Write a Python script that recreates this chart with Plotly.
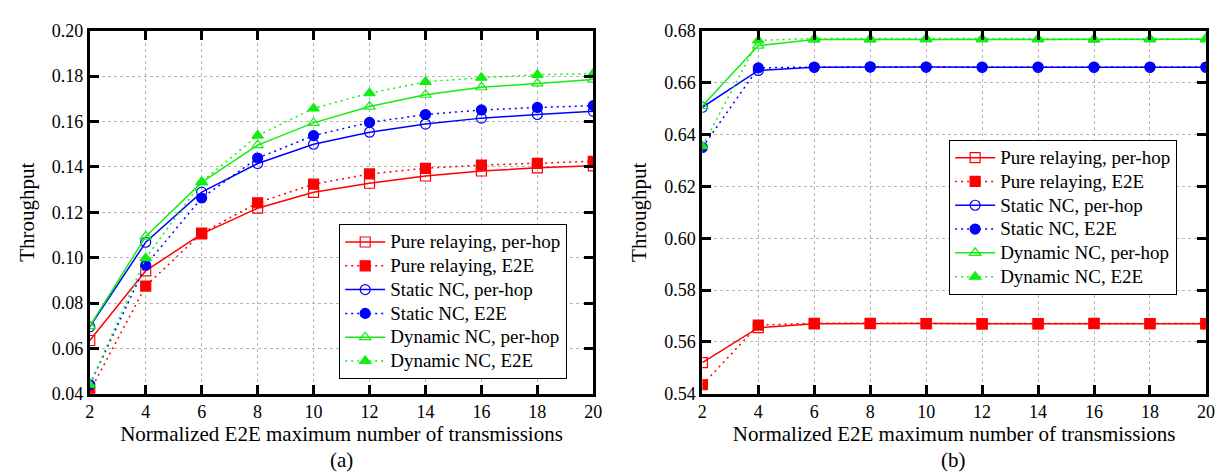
import plotly.graph_objects as go

x_vals = [2, 4, 6, 8, 10, 12, 14, 16, 18, 20]

# (a)
a_pure_hop = [0.0635, 0.0942, 0.1105, 0.1218, 0.1288, 0.1328, 0.1360, 0.1382, 0.1396, 0.1405]
a_pure_e2e = [0.0410, 0.0875, 0.1108, 0.1242, 0.1324, 0.1369, 0.1394, 0.1408, 0.1416, 0.1425]
a_static_hop = [0.0695, 0.1068, 0.1289, 0.1415, 0.1500, 0.1553, 0.1589, 0.1615, 0.1631, 0.1645]
a_static_e2e = [0.0440, 0.0967, 0.1263, 0.1439, 0.1538, 0.1596, 0.1631, 0.1651, 0.1662, 0.1670]
a_dyn_hop = [0.0698, 0.1093, 0.1332, 0.1496, 0.1594, 0.1666, 0.1718, 0.1751, 0.1768, 0.1785]
a_dyn_e2e = [0.0440, 0.0998, 0.1334, 0.1538, 0.1658, 0.1725, 0.1775, 0.1793, 0.1806, 0.1812]

# (b)
b_pure_hop = [0.5520, 0.5655, 0.5670, 0.5671, 0.5671, 0.5670, 0.5670, 0.5671, 0.5671, 0.5670]
b_pure_e2e = [0.5435, 0.5665, 0.5672, 0.5672, 0.5671, 0.5670, 0.5671, 0.5672, 0.5671, 0.5671]
b_static_hop = [0.6505, 0.6647, 0.6659, 0.6660, 0.6660, 0.6659, 0.6659, 0.6659, 0.6659, 0.6659]
b_static_e2e = [0.6350, 0.6657, 0.6660, 0.6661, 0.6660, 0.6660, 0.6660, 0.6660, 0.6660, 0.6660]
b_dyn_hop = [0.6510, 0.6743, 0.6766, 0.6766, 0.6767, 0.6767, 0.6767, 0.6766, 0.6767, 0.6767]
b_dyn_e2e = [0.6355, 0.6763, 0.6770, 0.6769, 0.6770, 0.6770, 0.6769, 0.6768, 0.6769, 0.6770]

names = ["Pure relaying, per-hop", "Pure relaying, E2E", "Static NC, per-hop",
         "Static NC, E2E", "Dynamic NC, per-hop", "Dynamic NC, E2E"]

RED, BLUE, GREEN = "#ff0000", "#0000ff", "#11ee11"
DOT = "2px,4px"
styles = [
    (RED, "solid", "square-open"),
    (RED, DOT, "square"),
    (BLUE, "solid", "circle-open"),
    (BLUE, DOT, "circle"),
    (GREEN, "solid", "triangle-up-open"),
    (GREEN, DOT, "triangle-up"),
]

FONT = "Liberation Serif, Times New Roman, DejaVu Serif, serif"
fig = go.Figure()

series_a = [a_pure_hop, a_pure_e2e, a_static_hop, a_static_e2e, a_dyn_hop, a_dyn_e2e]
series_b = [b_pure_hop, b_pure_e2e, b_static_hop, b_static_e2e, b_dyn_hop, b_dyn_e2e]

for ser, xa, ya, leg in [(series_a, "x", "y", "legend"), (series_b, "x2", "y2", "legend2")]:
    for vals, name, (col, dash, sym) in zip(ser, names, styles):
        fig.add_trace(go.Scatter(
            x=x_vals, y=vals, mode="lines+markers",
            name='<span style="font-size:19px">' + name + '</span>',
            line=dict(color=col, width=1.5, dash=dash),
            marker=dict(symbol=sym, size=10, color=col, line=dict(color=col, width=1.2)),
            xaxis=xa, yaxis=ya, legend=leg,
        ))

axis_common = dict(
    showline=True, linecolor="black", linewidth=3, mirror="ticks",
    ticks="inside", ticklen=9, tickwidth=2.5, tickcolor="black",
    showgrid=True, gridcolor="#b5b5b5", griddash="dot", gridwidth=1,
    zeroline=False, tickfont=dict(family=FONT, size=18, color="black"),
)

title_font = dict(family=FONT, size=21, color="black")
leg_font = dict(family=FONT, size=16, color="black")
xtitle = "Normalized E2E maximum number of transmissions"

fig.update_layout(
    width=1223, height=476,
    paper_bgcolor="white", plot_bgcolor="white",
    margin=dict(l=0, r=0, t=0, b=0),
    font=dict(family=FONT, color="black"),
    xaxis=dict(domain=[0.0635, 0.48], range=[2, 20], tickvals=x_vals, anchor="y",
               title=dict(text=xtitle, font=title_font, standoff=3), **axis_common),
    yaxis=dict(domain=[0.1758, 0.972], range=[0.04, 0.20], dtick=0.02, tickformat=".2f", anchor="x",
               title=dict(text="Throughput", font=title_font, standoff=12), **axis_common),
    xaxis2=dict(domain=[0.5702, 0.9867], range=[2, 20], tickvals=x_vals, anchor="y2",
                title=dict(text=xtitle, font=title_font, standoff=3), **axis_common),
    yaxis2=dict(domain=[0.1758, 0.972], range=[0.54, 0.68], dtick=0.02, tickformat=".2f", anchor="x2",
                title=dict(text="Throughput", font=title_font, standoff=12), **axis_common),
    legend=dict(x=0.2698, y=0.548, xanchor="left", yanchor="top", bgcolor="white",
                bordercolor="black", borderwidth=1, font=leg_font,
                tracegroupgap=0, itemwidth=40),
    legend2=dict(x=0.7743, y=0.733, xanchor="left", yanchor="top", bgcolor="white",
                 bordercolor="black", borderwidth=1, font=leg_font,
                 tracegroupgap=0, itemwidth=40),
    annotations=[
        dict(text="(a)", x=0.2717, y=0.0, xref="paper", yref="paper", xanchor="center", yanchor="bottom",
             showarrow=False, font=dict(family=FONT, size=21, color="black")),
        dict(text="(b)", x=0.778, y=0.0, xref="paper", yref="paper", xanchor="center", yanchor="bottom",
             showarrow=False, font=dict(family=FONT, size=21, color="black")),
    ],
)

fig.write_html("out.html")
